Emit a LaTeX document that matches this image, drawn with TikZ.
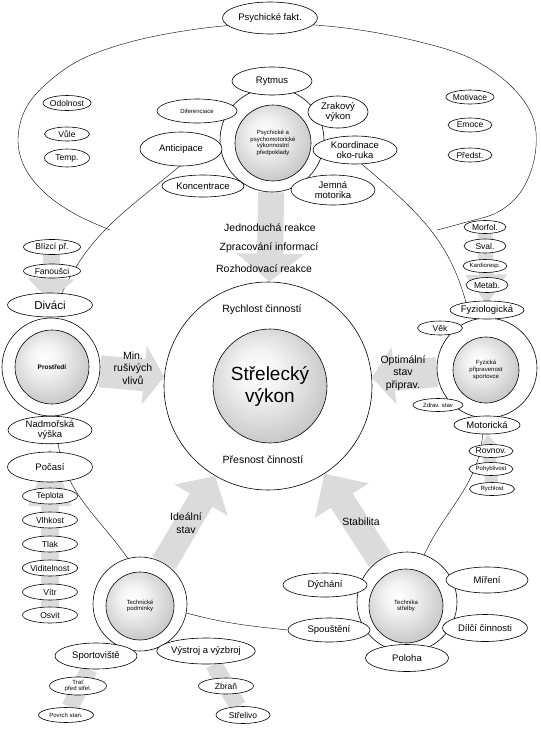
\documentclass[tikz,border=0pt]{standalone}
\usepackage{fontspec}
\setmainfont{Liberation Sans}
\usetikzlibrary{shapes.geometric,arrows.meta}
\pgfdeclarelayer{background}
\pgfsetlayers{background,main}
\pgfdeclareradialshading{sph}{\pgfpoint{-6bp}{7bp}}{color(0bp)=(white); color(10bp)=(black!5); color(55bp)=(black!45)}
\begin{document}
\begin{tikzpicture}[x=1pt,y=1pt,line width=0.6pt,
  bub/.style={ellipse,draw,fill=white,inner sep=0pt,align=center,font=\fontsize{9.5}{10.5}\selectfont},
  sbub/.style={bub,minimum width=55pt,minimum height=16pt,font=\fontsize{8.5}{9}\selectfont},
  wee/.style={font=\fontsize{6}{6.5}\selectfont},
  ring/.style={circle,draw,fill=white,inner sep=0pt},
  sphere/.style={circle,draw,shading=sph,inner sep=0pt,align=center,font=\fontsize{6}{6.8}\selectfont},
  lbl/.style={align=center,font=\fontsize{10.5}{12.5}\selectfont},
  bigarrow/.style={draw=black!14,line width=26pt,-{Triangle[length=28pt,width=66pt]}},
  chainarrow/.style={draw=black!14},
]
\useasboundingbox (0,0) rectangle (541,-729);

% psychicke faktory
\node[ring,minimum size=104pt] (psyring) at (272,-140) {};
\node[sphere,minimum size=76pt] (psyball) at (273,-143) {Psychické a\\psychomotorické\\výkonnostní\\předpoklady};
\node[bub,minimum width=95pt,minimum height=32pt] (psyfakt) at (270,-18) {Psychické fakt.};
\node[bub,minimum width=80pt,minimum height=28pt] (rytmus) at (272,-81) {Rytmus};
\node[bub,wee,minimum width=80pt,minimum height=24pt] (difer) at (197,-111) {Diferenciace};
\node[bub,minimum width=60pt,minimum height=32pt] (zrak) at (338,-112) {Zrakový\\výkon};
\node[bub,minimum width=84pt,minimum height=28pt] (koord) at (355,-150) {Koordinace\\oko-ruka};
\node[bub,minimum width=84pt,minimum height=30pt] (jemna) at (333,-190) {Jemná\\motorika};
\node[bub,minimum width=82pt,minimum height=22pt] (koncen) at (203,-186) {Koncentrace};
\node[bub,minimum width=82pt,minimum height=34pt] (antic) at (181,-149) {Anticipace};
\node[sbub,minimum width=45pt,minimum height=15pt] (odol) at (67,-103) {Odolnost};
\node[sbub,minimum width=45pt,minimum height=14pt] (vule) at (67,-134) {Vůle};
\node[sbub,minimum width=45pt,minimum height=18pt] (temp) at (67,-158) {Temp.};
\node[sbub,minimum width=44pt,minimum height=14pt] (motiv) at (470,-97) {Motivace};
\node[sbub,minimum width=44pt,minimum height=14pt] (emoce) at (470,-125) {Emoce};
\node[sbub,minimum width=44pt,minimum height=14pt] (predst) at (470,-155) {Předst.};

% strelecky vykon
\node[ring,minimum size=208pt] (mainring) at (268,-386) {};
\node[sphere,minimum size=114pt,font=\fontsize{19}{22}\selectfont] (mainball) at (270,-386) {Střelecký\\výkon};
\node[lbl] (rychlost) at (262,-310) {Rychlost činností};
\node[lbl] (presnost) at (263,-460) {Přesnost činností};
\node[lbl] (jedn) at (270,-228) {Jednoduchá reakce};
\node[lbl] (zprac) at (269,-248) {Zpracování informací};
\node[lbl] (rozh) at (264,-269) {Rozhodovací reakce};

% prostredi
\node[ring,minimum size=98pt] (envring) at (51,-367) {};
\node[sphere,minimum size=74pt,font=\fontsize{6.5}{7}\selectfont\bfseries] (envball) at (52,-367) {Prostředí};
\node[bub,minimum width=85pt,minimum height=24pt,font=\fontsize{11.5}{12}\selectfont] (divaci) at (50,-305) {Diváci};
\node[sbub,minimum width=57pt,minimum height=14pt] (fanousci) at (52,-271) {Fanoušci};
\node[sbub,minimum width=57pt,minimum height=15pt] (blizci) at (52,-247) {Blízcí př.};
\node[bub,minimum width=84pt,minimum height=27pt] (nadmor) at (50,-430) {Nadmořská\\výška};
\node[bub,minimum width=85pt,minimum height=30pt] (pocasi) at (50,-467) {Počasí};
\node[sbub] (teplota) at (50,-496) {Teplota};
\node[sbub] (vlhkost) at (50,-520) {Vlhkost};
\node[sbub] (tlak) at (50,-544) {Tlak};
\node[sbub] (viditel) at (50,-568) {Viditelnost};
\node[sbub] (vitr) at (50,-592) {Vítr};
\node[sbub] (osvit) at (50,-615) {Osvit};
\node[lbl] (minrus) at (133,-368) {Min.\\rušivých\\vlivů};

% fyzicka pripravenost
\node[ring,minimum size=100pt] (fyzring) at (487,-368) {};
\node[sphere,minimum size=66pt] (fyzball) at (486,-370) {Fyzická\\připravenost\\sportovce};
\node[bub,minimum width=72pt,minimum height=18pt] (fyziol) at (487,-310) {Fyziologická};
\node[sbub,minimum width=42pt,minimum height=15pt] (metab) at (487,-285) {Metab.};
\node[sbub,wee,minimum width=44pt,minimum height=13pt] (kardio) at (485,-266) {Kardioresp.};
\node[sbub,minimum width=42pt,minimum height=14pt] (sval) at (485,-246) {Sval.};
\node[sbub,minimum width=42pt,minimum height=13pt] (morfol) at (485,-227) {Morfol.};
\node[sbub,minimum width=45pt,minimum height=14pt] (vek) at (440,-328) {Věk};
\node[sbub,wee,minimum width=50pt,minimum height=13pt] (zdrav) at (438,-405) {Zdrav. stav};
\node[bub,minimum width=66pt,minimum height=18pt] (motor) at (487,-425) {Motorická};
\node[sbub,minimum width=44pt,minimum height=13pt] (rovnov) at (491,-451) {Rovnov.};
\node[sbub,wee,minimum width=44pt,minimum height=13pt] (pohyb) at (491,-469) {Pohyblivost};
\node[sbub,wee,minimum width=45pt,minimum height=13pt] (rychl) at (492,-489) {Rychlost};
\node[lbl] (optim) at (403,-373) {Optimální\\stav\\připrav.};

% technicke podminky
\node[ring,minimum size=94pt] (techring) at (140,-604) {};
\node[sphere,minimum size=68pt] (techball) at (140,-606) {Technické\\podmínky};
\node[bub,minimum width=82pt,minimum height=26pt] (sport) at (96,-656) {Sportoviště};
\node[bub,minimum width=85pt,minimum height=26pt] (vystroj) at (206,-651) {Výstroj a výzbroj};
\node[sbub,wee,minimum width=57pt,minimum height=18pt] (trat) at (78,-686) {Trať\\před střel.};
\node[sbub,wee,minimum width=55pt,minimum height=15pt] (povrch) at (66,-715) {Povrch stan.};
\node[sbub] (zbran) at (226,-686) {Zbraň};
\node[sbub,minimum width=54pt,minimum height=17pt] (strelivo) at (243,-715) {Střelivo};
\node[lbl] (idealni) at (186,-523) {Ideální\\stav};

% technika strelby
\node[ring,minimum size=100pt] (string) at (407,-602) {};
\node[sphere,minimum size=74pt] (stball) at (406,-606) {Technika\\střelby};
\node[bub,minimum width=84pt,minimum height=24pt] (dychani) at (325,-585) {Dýchání};
\node[bub,minimum width=82pt,minimum height=26pt] (mireni) at (487,-580) {Míření};
\node[bub,minimum width=82pt,minimum height=24pt] (spoust) at (329,-630) {Spouštění};
\node[bub,minimum width=85pt,minimum height=27pt] (dilci) at (485,-628) {Dílčí činnosti};
\node[bub,minimum width=83pt,minimum height=27pt] (poloha) at (407,-658) {Poloha};
\node[lbl] (stabil) at (361,-522) {Stabilita};

\begin{pgfonlayer}{background}
% velka elipsa
\draw plot[smooth,tension=0.6] coordinates {(110,-230) (75,-214) (45,-193) (25,-168) (18,-140) (25,-110) (45,-85) (80,-60) (130,-42) (190,-30) (250,-24) (300,-24) (360,-30) (420,-42) (470,-58) (510,-85) (533,-118) (535,-155) (522,-190) (498,-212) (463,-223) (437,-230)};
% spojnice
\draw (antic.265) to[out=220,in=65] (divaci.45);
\draw (nadmor.-60) to[out=-80,in=125] (techring.105);
\draw (techring.-11) to[out=-15,in=174] (spoust.west);
\draw (string.70) to[out=65,in=-95] (motor.-115);
\draw (fyziol.160) to[out=105,in=-40] (koord.-65);
% sede sipky
\draw[bigarrow] (psyring) -- (mainring);
\draw[bigarrow,line width=32pt,-{Triangle[length=20pt,width=58pt]}] (envring) -- (mainring);
\draw[bigarrow,line width=30pt,-{Triangle[length=22pt,width=56pt]}] (fyzring) -- (mainring);
\draw[bigarrow,-{Triangle[length=28pt,width=60pt]}] (techring) -- (mainring);
\draw[bigarrow,-{Triangle[length=32pt,width=62pt]}] (string) -- (mainring);
\draw[chainarrow,line width=17pt,-{Triangle[length=22pt,width=46pt]},shorten >=-8pt] (blizci) -- (divaci);
\draw[chainarrow,line width=18pt,-{Triangle[length=62pt,width=38pt]}] (osvit) -- (nadmor);
\draw[chainarrow,line width=15pt,-{Triangle[length=30pt,width=40pt]},shorten >=-4pt] (morfol) -- (fyziol);
\draw[chainarrow,line width=13pt,-{Triangle[length=20pt,width=28pt]}] (rychl) -- (motor);
\draw[chainarrow,line width=17pt] (povrch) -- (sport);
\draw[chainarrow,line width=17pt] (strelivo) -- (vystroj);
\end{pgfonlayer}
\end{tikzpicture}
\end{document}
